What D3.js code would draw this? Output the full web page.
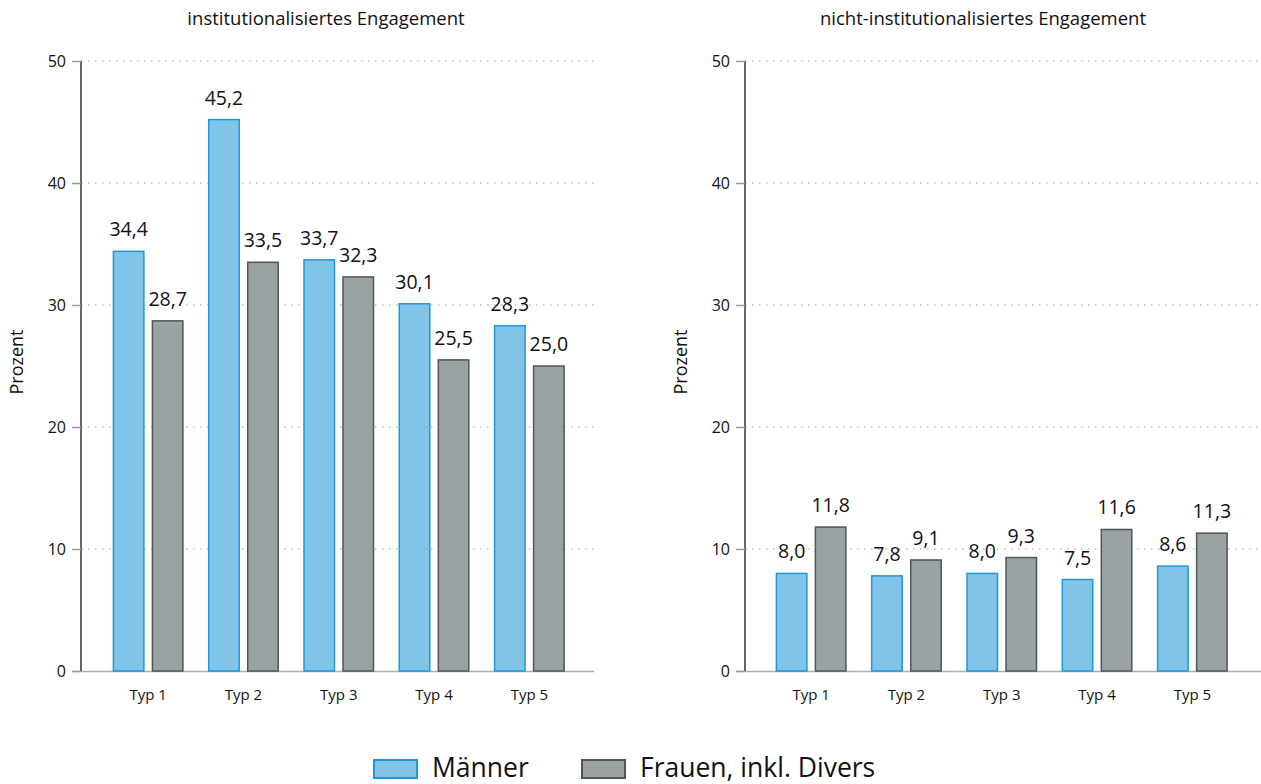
<!DOCTYPE html>
<html>
<head>
<meta charset="utf-8">
<script src="https://cdn.jsdelivr.net/npm/d3@7"></script>
<style>
  body { margin: 0; background: #fff; }
  svg { font-family: "Open Sans", "Noto Sans", sans-serif; }
</style>
</head>
<body>
<div id="chart"></div>
<script>
// data
const types = ['Typ 1', 'Typ 2', 'Typ 3', 'Typ 4', 'Typ 5']
const series = ['Männer', 'Frauen, inkl. Divers']
const instMaenner = [34.4, 45.2, 33.7, 30.1, 28.3]
const instFrauen = [28.7, 33.5, 32.3, 25.5, 25.0]
const nichtMaenner = [8.0, 7.8, 8.0, 7.5, 8.6]
const nichtFrauen = [11.8, 9.1, 9.3, 11.6, 11.3]
const yTicks = [0, 10, 20, 30, 40, 50]

const fills = ['#80c5e8', '#9ba2a3']
const strokes = ['#1f97d8', '#4d5658']

svg = d3.select('#chart').append('svg')
  .attr('viewBox', [0, 0, 1261, 784])
  .attr('width', 1261)
  .attr('height', 784)

y = d3.scaleLinear().domain([0, 50]).range([671, 61])

function panel(opts) {
  let g = svg.append('g')
  let x = d3.scaleBand().domain(types).range([opts.x0, opts.x1]).paddingInner(0).paddingOuter(0)
  let xs = d3.scaleBand().domain(series).range([-35.5, 35.5]).paddingInner(0.18)

  // dotted grid
  g.selectAll('line.grid')
    .data(yTicks.filter(d => d > 0))
    .join('line')
      .attr('class', 'grid')
      .attr('x1', opts.axisX)
      .attr('x2', opts.gridEnd)
      .attr('y1', d => y(d))
      .attr('y2', d => y(d))
      .style('stroke', '#bfbfbf')
      .style('stroke-width', 1.5)
      .style('stroke-dasharray', '1.5,5.5')

  // baseline
  g.append('line')
    .attr('x1', opts.axisX - 9).attr('x2', opts.gridEnd)
    .attr('y1', y(0) + 0.5).attr('y2', y(0) + 0.5)
    .style('stroke', '#b0b0b0').style('stroke-width', 1.5)

  // y axis
  let ax = g.append('g')
    .attr('transform', `translate(${opts.axisX},0)`)
    .call(d3.axisLeft(y).tickValues(yTicks).tickSize(9).tickPadding(6))
  ax.select('.domain').style('stroke', '#333').style('stroke-width', 1.5)
    .attr('d', `M0,${y(50)}V${y(0)}`)
  ax.selectAll('.tick line').style('stroke', '#999').style('stroke-width', 1.5)
  ax.selectAll('.tick text').style('font-size', '16px').style('fill', '#111')
    .style('font-family', '"Open Sans", sans-serif')

  // bars
  let rows = types.map((t, i) => ({type: t, vals: [opts.a[i], opts.b[i]]}))
  let grp = g.selectAll('g.cat')
    .data(rows)
    .join('g')
      .attr('class', 'cat')
      .attr('transform', d => `translate(${x(d.type) + x.bandwidth() / 2},0)`)

  grp.selectAll('rect')
    .data(d => d.vals.map((v, k) => ({v, k})))
    .join('rect')
      .attr('x', d => xs(series[d.k]) + 0.75)
      .attr('width', xs.bandwidth() - 1.5)
      .attr('y', d => y(d.v))
      .attr('height', d => y(0) - y(d.v))
      .style('fill', d => fills[d.k])
      .style('stroke', d => strokes[d.k])
      .style('stroke-width', 1.5)

  grp.selectAll('text.val')
    .data(d => d.vals.map((v, k) => ({v, k})))
    .join('text')
      .attr('class', 'val')
      .attr('x', d => xs(series[d.k]) + xs.bandwidth() / 2)
      .attr('y', d => y(d.v) - 15)
      .attr('text-anchor', 'middle')
      .style('font-size', '19.5px')
      .style('fill', '#111')
      .text(d => d3.format('.1f')(d.v).replace('.', ','))

  // category labels
  g.selectAll('text.cat')
    .data(types)
    .join('text')
      .attr('class', 'cat')
      .attr('x', d => x(d) + x.bandwidth() / 2)
      .attr('y', 700)
      .attr('text-anchor', 'middle')
      .style('font-size', '15px')
      .style('fill', '#111')
      .text(d => d)

  // title
  g.append('text')
    .attr('x', opts.titleX).attr('y', 25)
    .attr('text-anchor', 'middle')
    .style('font-size', '18.5px').style('fill', '#111')
    .text(opts.title)

  g.append('text')
    .attr('transform', `translate(${opts.axisX - 58},362) rotate(-90)`)
    .attr('text-anchor', 'middle')
    .style('font-size', '18px').style('fill', '#111')
    .text('Prozent')
}

panel({x0: 100.5, x1: 577, axisX: 81, gridEnd: 594, titleX: 326,
  title: 'institutionalisiertes Engagement', a: instMaenner, b: instFrauen})
panel({x0: 763.5, x1: 1240, axisX: 745, gridEnd: 1261, titleX: 983,
  title: 'nicht-institutionalisiertes Engagement', a: nichtMaenner, b: nichtFrauen})

// legend
legendPos = [374, 582]
leg = svg.selectAll('g.legend')
  .data(series)
  .join('g')
    .attr('class', 'legend')
    .attr('transform', (d, i) => `translate(${legendPos[i]},760)`)
leg.append('rect')
  .attr('width', 43).attr('height', 18)
  .style('fill', (d, i) => fills[i])
  .style('stroke', (d, i) => strokes[i])
  .style('stroke-width', 2)
leg.append('text')
  .attr('x', 58).attr('y', 17)
  .style('font-size', '26.5px').style('fill', '#111')
  .text(d => d)
</script>
</body>
</html>
